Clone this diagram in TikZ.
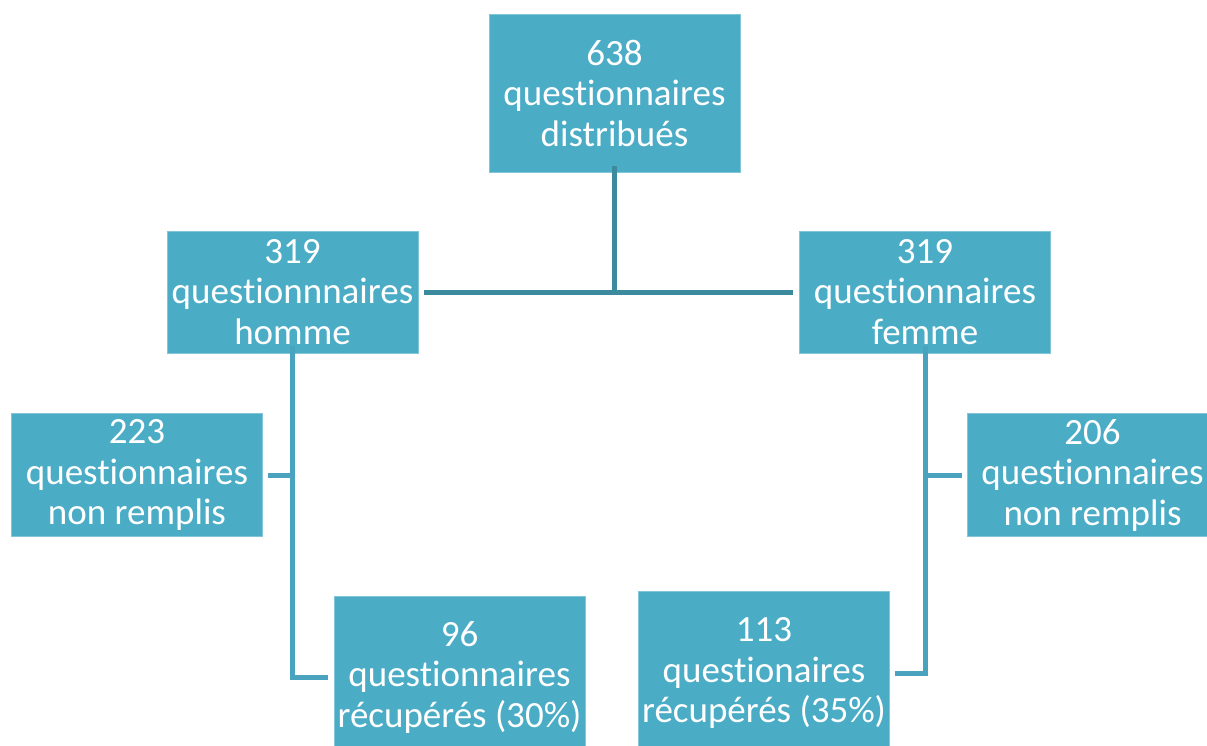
\documentclass[tikz,border=0pt]{standalone}
\usepackage{fontspec}
\setmainfont{Carlito}[Ligatures=NoCommon, RawFeature=-calt]
\definecolor{boxfill}{RGB}{75,172,198}
\definecolor{boxedge}{RGB}{130,196,216}
\definecolor{topline}{RGB}{59,138,157}
\definecolor{lowline}{RGB}{74,163,190}
\tikzset{
  qbox/.style={rectangle, fill=boxfill, draw=boxedge, line width=0.8pt, inner sep=0pt,
    minimum width=251pt, align=center, text=white,
    font=\fontsize{37}{40.5}\selectfont},
  linktop/.style={draw=topline, line width=5pt},
  linklow/.style={draw=lowline, line width=5pt}
}
\begin{document}
\begin{tikzpicture}[x=1pt,y=-1pt]
\useasboundingbox (0,0) rectangle (1207,745);
\clip (0,0) rectangle (1207,745);
\node[qbox, minimum height=158pt] (top) at (614.5,93) {638\\questionnaires\\distribués};
\node[qbox, minimum height=122pt] (hom) at (292.5,292) {319\\questionnnaires\\homme};
\node[qbox, minimum height=122pt] (fem) at (925,292) {319\\questionnaires\\femme};
\node[qbox, minimum height=123pt] (n223) at (137,475) {223\\questionnaires\\non remplis};
\node[qbox, minimum height=123pt] (n206) at (1092.5,475) {206\\questionnaires\\non remplis};
\node[qbox, minimum height=162pt] (r96) at (459.5,677) {96\\questionnaires\\récupérés (30\%)};
\node[qbox, minimum height=164pt] (r113) at (764,673) {113\\questionaires\\récupérés (35\%)};
% top connectors
\draw[linktop] ([yshift=6pt]top.south) -- (top.south |- hom.east);
\draw[linktop] ([xshift=6pt]hom.east) -- ([xshift=-6pt]fem.west);
% left branch
\draw[linklow] ([yshift=7pt]hom.south) |- ([xshift=-6pt]r96.west);
\draw[linklow] ([xshift=5pt]n223.east) -- (hom.south |- n223.east);
% right branch
\draw[linklow] ([yshift=7pt]fem.south) |- ([xshift=5pt]r113.east);
\draw[linklow] ([xshift=-5pt]n206.west) -- (fem.south |- n206.west);
\end{tikzpicture}
\end{document}
